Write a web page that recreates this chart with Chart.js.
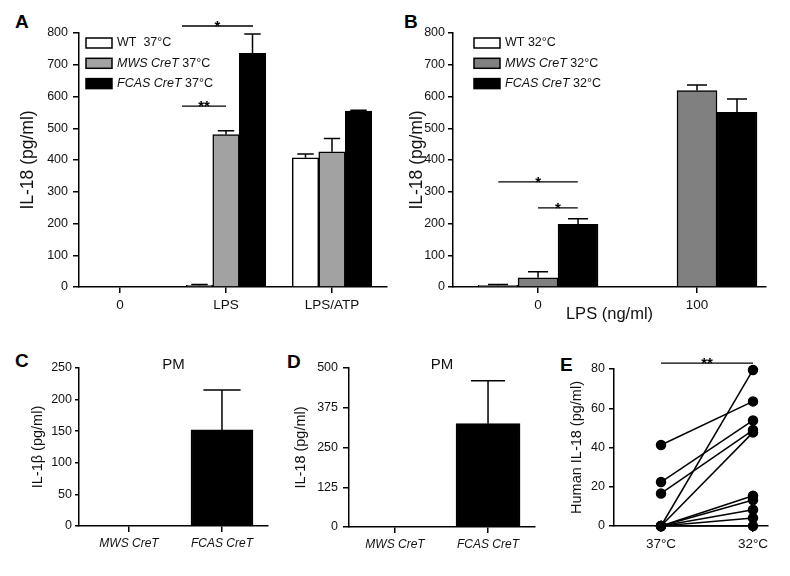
<!doctype html>
<html>
<head>
	<title>IL-18 / IL-1b panels</title>
	<script src="https://cdn.jsdelivr.net/npm/chart.js@4/dist/chart.umd.min.js"></script>
	<style>
		body {
			margin: 0;
			background: #fff;
			width: 790px;
			height: 576px;
			position: relative;
			overflow: hidden;
			font-family: "Liberation Sans", Arial, sans-serif;
		}
		canvas {
			position: absolute;
		}
		.tag {
			position: absolute;
			font-weight: bold;
			font-size: 19px;
			line-height: 1;
			color: #000;
		}
	</style>
</head>

<body>
	<div class="tag" style="left:15px;top:12px">A</div>
	<div class="tag" style="left:404px;top:12px">B</div>
	<div class="tag" style="left:15px;top:351px">C</div>
	<div class="tag" style="left:287px;top:352px">D</div>
	<div class="tag" style="left:560px;top:355px">E</div>

	<canvas id="chartA" width="400" height="330" style="left:0;top:0"></canvas>
	<canvas id="chartB" width="390" height="330" style="left:400px;top:0"></canvas>
	<canvas id="chartC" width="275" height="246" style="left:0;top:330px"></canvas>
	<canvas id="chartD" width="262" height="246" style="left:275px;top:330px"></canvas>
	<canvas id="chartE" width="253" height="246" style="left:537px;top:330px"></canvas>

	<script>
		// panel A - 37C
		var catsA = ['0', 'LPS', 'LPS/ATP'];
		var wt37 = [0, 5, 407];
		var wt37Sem = [0, 3, 12];
		var mws37 = [0, 480, 426];
		var mws37Sem = [0, 12, 42];
		var fcas37 = [0, 736, 554];
		var fcas37Sem = [0, 61, 3];

		// panel B - 32C
		var catsB = ['0', '100'];
		var wt32 = [5, null];
		var wt32Sem = [3, 0];
		var mws32 = [29, 619];
		var mws32Sem = [19, 17];
		var fcas32 = [197, 550];
		var fcas32Sem = [18, 42];

		// panels C and D - PM
		var catsPM = ['MWS CreT', 'FCAS CreT'];
		var il1bPM = [1, 152];
		var il1bPMSem = [0, 63];
		var il18PM = [0, 325];
		var il18PMSem = [0, 135];

		// panel E - paired human samples
		var catsE = ['37°C', '32°C'];
		var human37 = [41.3, 22.4, 16.6, 0, 0, 0, 0, 0, 0, 0];
		var human32 = [63.5, 53.8, 48.9, 79.5, 47.7, 15.4, 13.2, 8.3, 4.1, 0];

		Chart.defaults.font.family = '"Liberation Sans", Arial, sans-serif';
		Chart.defaults.color = '#111';
		Chart.defaults.animation = false;
		Chart.defaults.events = [];
		Chart.defaults.plugins.legend.display = false;
		Chart.defaults.plugins.tooltip.enabled = false;

		function pts(vals) {
			return vals.map(function(v, i) {
				return {x: i, y: v};
			});
		}

		var errorBars = {
			id: 'errorBars',
			afterDatasetsDraw: function(chart, args, opts) {
				var ctx = chart.ctx;
				var y = chart.scales.y;
				chart.data.datasets.forEach(function(ds, i) {
					if (!ds.sem) return;
					chart.getDatasetMeta(i).data.forEach(function(bar, j) {
						var v = ds.data[j].y;
						var e = ds.sem[j];
						if (v == null || !e) return;
						var top = y.getPixelForValue(v + e);
						var half = bar.width * (opts.cap || 0.6) / 2;
						ctx.save();
						ctx.strokeStyle = '#000';
						ctx.lineWidth = 1.5;
						ctx.beginPath();
						ctx.moveTo(bar.x, y.getPixelForValue(v));
						ctx.lineTo(bar.x, top);
						ctx.moveTo(bar.x - half, top);
						ctx.lineTo(bar.x + half, top);
						ctx.stroke();
						ctx.restore();
					});
				});
			}
		};

		var sigLines = {
			id: 'sigLines',
			afterDraw: function(chart, args, opts) {
				var ctx = chart.ctx;
				(opts.lines || []).forEach(function(s) {
					var py = chart.scales.y.getPixelForValue(s.y);
					var x1 = chart.scales.x.getPixelForValue(s.x1);
					var x2 = chart.scales.x.getPixelForValue(s.x2);
					ctx.save();
					ctx.strokeStyle = '#000';
					ctx.lineWidth = 1.3;
					ctx.beginPath();
					ctx.moveTo(x1, py);
					ctx.lineTo(x2, py);
					ctx.stroke();
					ctx.fillStyle = '#000';
					ctx.font = 'bold 15px "Liberation Sans"';
					ctx.textAlign = 'center';
					ctx.textBaseline = 'alphabetic';
					ctx.fillText(s.text, (x1 + x2) / 2, py + 5);
					ctx.restore();
				});
			}
		};

		var boxLegend = {
			id: 'boxLegend',
			afterDraw: function(chart, args, opts) {
				if (!opts.show) return;
				var ctx = chart.ctx;
				var a = chart.chartArea;
				chart.data.datasets.forEach(function(ds, i) {
					var bx = a.left + opts.dx;
					var cy = a.top + 10 + i * 20.3;
					ctx.save();
					ctx.fillStyle = ds.backgroundColor;
					ctx.strokeStyle = '#000';
					ctx.lineWidth = 1.5;
					ctx.fillRect(bx, cy - 5, 26, 10);
					ctx.strokeRect(bx, cy - 5, 26, 10);
					ctx.fillStyle = '#111';
					ctx.textBaseline = 'middle';
					var tx = bx + 31;
					ds.parts.forEach(function(p) {
						ctx.font = (p[1] ? 'italic ' : '') + '12.5px "Liberation Sans"';
						ctx.fillText(p[0], tx, cy);
						tx += ctx.measureText(p[0]).width;
					});
					ctx.restore();
				});
			}
		};

		var panelTitle = {
			id: 'panelTitle',
			afterDraw: function(chart, args, opts) {
				if (!opts.text) return;
				var ctx = chart.ctx;
				var a = chart.chartArea;
				ctx.save();
				ctx.fillStyle = '#111';
				ctx.font = '15px "Liberation Sans"';
				ctx.textAlign = 'center';
				ctx.textBaseline = 'alphabetic';
				ctx.fillText(opts.text, (a.left + a.right) / 2, a.top + 1);
				ctx.restore();
			}
		};

		function makeScales(p) {
			return {
				x: {
					type: 'linear',
					offset: false,
					min: p.xmin,
					max: p.xmax,
					afterBuildTicks: function(s) {
						s.ticks = p.cats.map(function(c, i) {
							return {value: i};
						});
					},
					afterFit: function(s) {
						s.height = p.xh;
					},
					ticks: {
						autoSkip: false,
						maxRotation: 0,
						padding: 4,
						font: p.xfont,
						color: '#111',
						callback: function(v) {
							return p.cats[Math.round(v)];
						}
					},
					grid: {
						offset: false,
						drawOnChartArea: false,
						tickLength: 6,
						tickWidth: 1.5,
						tickColor: '#000',
						color: '#000',
						lineWidth: 1.5
					},
					border: {color: '#000', width: 1.5},
					title: {
						display: !!p.xtitle,
						text: p.xtitle || '',
						font: {size: 16.5},
						color: '#111',
						padding: {top: 0, bottom: p.xtitlePad || 0}
					}
				},
				y: {
					min: 0,
					max: p.ymax,
					afterFit: function(s) {
						s.width = p.yw;
					},
					ticks: {
						stepSize: p.step,
						padding: p.ypad,
						font: {size: 12.5},
						color: '#111'
					},
					grid: {
						drawOnChartArea: false,
						tickLength: p.ylen,
						tickWidth: 1.5,
						tickColor: '#000',
						color: '#000',
						lineWidth: 1.5
					},
					border: {color: '#000', width: 1.5},
					title: {
						display: true,
						text: p.ytitle,
						font: {size: p.ysize},
						color: '#111',
						padding: {top: p.ytitlePad, bottom: 0}
					}
				}
			};
		}

		function barSet(parts, vals, sem, color, thick) {
			return {
				label: parts.map(function(q) { return q[0]; }).join(''),
				parts: parts,
				data: pts(vals),
				sem: sem,
				backgroundColor: color,
				borderColor: '#000',
				borderWidth: 1.5,
				barThickness: thick
			};
		}

		window.onload = function() {
			new Chart(document.getElementById('chartA'), {
				type: 'bar',
				data: {
					datasets: [
						barSet([['WT  37°C', false]], wt37, wt37Sem, '#ffffff', 26.5),
						barSet([['MWS CreT', true], [' 37°C', false]], mws37, mws37Sem, '#a2a2a2', 26.5),
						barSet([['FCAS CreT', true], [' 37°C', false]], fcas37, fcas37Sem, '#000000', 26.5)
					]
				},
				options: {
					responsive: false,
					layout: {padding: {top: 33, right: 13, left: 0, bottom: 0}},
					scales: makeScales({
						cats: catsA, xmin: -0.387, xmax: 2.519, xh: 43, xfont: {size: 13.5},
						ymax: 800, step: 100, yw: 79, ypad: 5, ylen: 6,
						ytitle: 'IL-18 (pg/ml)', ysize: 17.5, ytitlePad: 17.5
					}),
					plugins: {
						errorBars: {cap: 0.62},
						boxLegend: {show: true, dx: 7},
						sigLines: {lines: [
							{x1: 0.585, x2: 1.255, y: 822, text: '*'},
							{x1: 0.585, x2: 1.0, y: 570, text: '**'}
						]}
					}
				},
				plugins: [errorBars, sigLines, boxLegend]
			});

			new Chart(document.getElementById('chartB'), {
				type: 'bar',
				data: {
					datasets: [
						barSet([['WT 32°C', false]], wt32, wt32Sem, '#ffffff', 40),
						barSet([['MWS CreT', true], [' 32°C', false]], mws32, mws32Sem, '#808080', 40),
						barSet([['FCAS CreT', true], [' 32°C', false]], fcas32, fcas32Sem, '#000000', 40)
					]
				},
				options: {
					responsive: false,
					layout: {padding: {top: 33, right: 24, left: 0, bottom: 0}},
					scales: makeScales({
						cats: catsB, xmin: -0.535, xmax: 1.434, xh: 43, xfont: {size: 13.5},
						xtitle: 'LPS (ng/ml)', xtitlePad: 6,
						ymax: 800, step: 100, yw: 53, ypad: 3, ylen: 5,
						ytitle: 'IL-18 (pg/ml)', ysize: 17.5, ytitlePad: 6.5
					}),
					plugins: {
						errorBars: {cap: 0.5},
						boxLegend: {show: true, dx: 21},
						sigLines: {lines: [
							{x1: -0.25, x2: 0.25, y: 331, text: '*'},
							{x1: 0, x2: 0.25, y: 249, text: '*'}
						]}
					}
				},
				plugins: [errorBars, sigLines, boxLegend]
			});

			new Chart(document.getElementById('chartC'), {
				type: 'bar',
				data: {
					datasets: [barSet([['PM', false]], il1bPM, il1bPMSem, '#000000', 62)]
				},
				options: {
					responsive: false,
					layout: {padding: {top: 38, right: 7, left: 0, bottom: 0}},
					scales: makeScales({
						cats: catsPM, xmin: -0.538, xmax: 1.495, xh: 50, xfont: {size: 12, style: 'italic'},
						ymax: 250, step: 50, yw: 79, ypad: 3, ylen: 4,
						ytitle: 'IL-1β (pg/ml)', ysize: 14.5, ytitlePad: 29
					}),
					plugins: {
						errorBars: {cap: 0.6},
						panelTitle: {text: 'PM'}
					}
				},
				plugins: [errorBars, panelTitle]
			});

			new Chart(document.getElementById('chartD'), {
				type: 'bar',
				data: {
					datasets: [barSet([['PM', false]], il18PM, il18PMSem, '#000000', 64)]
				},
				options: {
					responsive: false,
					layout: {padding: {top: 38, right: 2, left: 0, bottom: 0}},
					scales: makeScales({
						cats: catsPM, xmin: -0.495, xmax: 1.505, xh: 49, xfont: {size: 12, style: 'italic'},
						ymax: 500, step: 125, yw: 74, ypad: 5, ylen: 6,
						ytitle: 'IL-18 (pg/ml)', ysize: 14.5, ytitlePad: 17
					}),
					plugins: {
						errorBars: {cap: 0.53},
						panelTitle: {text: 'PM'}
					}
				},
				plugins: [errorBars, panelTitle]
			});

			new Chart(document.getElementById('chartE'), {
				type: 'line',
				data: {
					datasets: human37.map(function(v, i) {
						return {
							data: [{x: 0, y: v}, {x: 1, y: human32[i]}],
							borderColor: '#000',
							borderWidth: 1.5,
							pointRadius: 4.5,
							pointBackgroundColor: '#000',
							pointBorderColor: '#000',
							clip: false
						};
					})
				},
				options: {
					responsive: false,
					layout: {padding: {top: 39, right: 22, left: 0, bottom: 0}},
					scales: makeScales({
						cats: catsE, xmin: -0.511, xmax: 1.163, xh: 50, xfont: {size: 13.5},
						ymax: 80, step: 20, yw: 77, ypad: 4, ylen: 5,
						ytitle: 'Human IL-18 (pg/ml)', ysize: 14.5, ytitlePad: 31
					}),
					plugins: {
						sigLines: {lines: [
							{x1: 0, x2: 1, y: 83, text: '**'}
						]}
					}
				},
				plugins: [sigLines]
			});
		};
	</script>
</body>

</html>
